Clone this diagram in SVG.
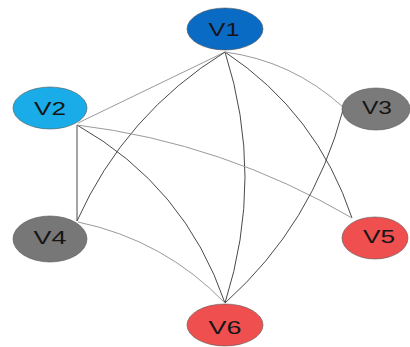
<svg xmlns="http://www.w3.org/2000/svg" width="410" height="347" viewBox="0 0 410 347">
<style>
.e{fill:none;stroke-width:1}
.d{stroke:#4a4a4a}
.l{stroke:#9a9a9a}
.n{stroke:#555;stroke-width:0.6}
.t{font-family:"Liberation Sans",Arial,sans-serif;font-size:18px;fill:#151515;text-anchor:middle}
</style>
<rect width="410" height="347" fill="#fff"/>
<g id="edges">
<path class="e l" d="M225,52 L78,123"/>
<path class="e d" d="M225,52 Q125,114 77,221"/>
<path class="e d" d="M225,52 Q265,177 225,303"/>
<path class="e d" d="M225,52 Q317,113 352,218"/>
<path class="e l" d="M225,52 Q292,61 343,107"/>
<path class="e d" d="M77,125 L77,221"/>
<path class="e d" d="M77,125 Q185,186 225,303"/>
<path class="e l" d="M77,125 Q224,143 352,218"/>
<path class="e l" d="M78,222 Q164,240 225,303"/>
<path class="e d" d="M343,110 Q313,224 225,303"/>
</g>
<g id="V1"><ellipse class="n" cx="225" cy="29" rx="38" ry="21" fill="#0a6bc4"/><text class="t" x="224" y="36" textLength="31" lengthAdjust="spacingAndGlyphs">V1</text></g>
<g id="V2"><ellipse class="n" cx="50" cy="108" rx="37" ry="21" fill="#1aace8"/><text class="t" x="50" y="115" textLength="32" lengthAdjust="spacingAndGlyphs">V2</text></g>
<g id="V3"><ellipse class="n" cx="376" cy="109" rx="34" ry="21" fill="#7a7a7a"/><text class="t" x="377" y="114" textLength="30" lengthAdjust="spacingAndGlyphs">V3</text></g>
<g id="V4"><ellipse class="n" cx="50" cy="239" rx="37" ry="23" fill="#777777"/><text class="t" x="50" y="244" textLength="33" lengthAdjust="spacingAndGlyphs">V4</text></g>
<g id="V5"><ellipse class="n" cx="375" cy="238" rx="33" ry="21" fill="#f04f4f"/><text class="t" x="379" y="243" textLength="32" lengthAdjust="spacingAndGlyphs">V5</text></g>
<g id="V6"><ellipse class="n" cx="225" cy="325" rx="38" ry="21" fill="#f04f4f"/><text class="t" x="225" y="334" textLength="33" lengthAdjust="spacingAndGlyphs">V6</text></g>
</svg>
